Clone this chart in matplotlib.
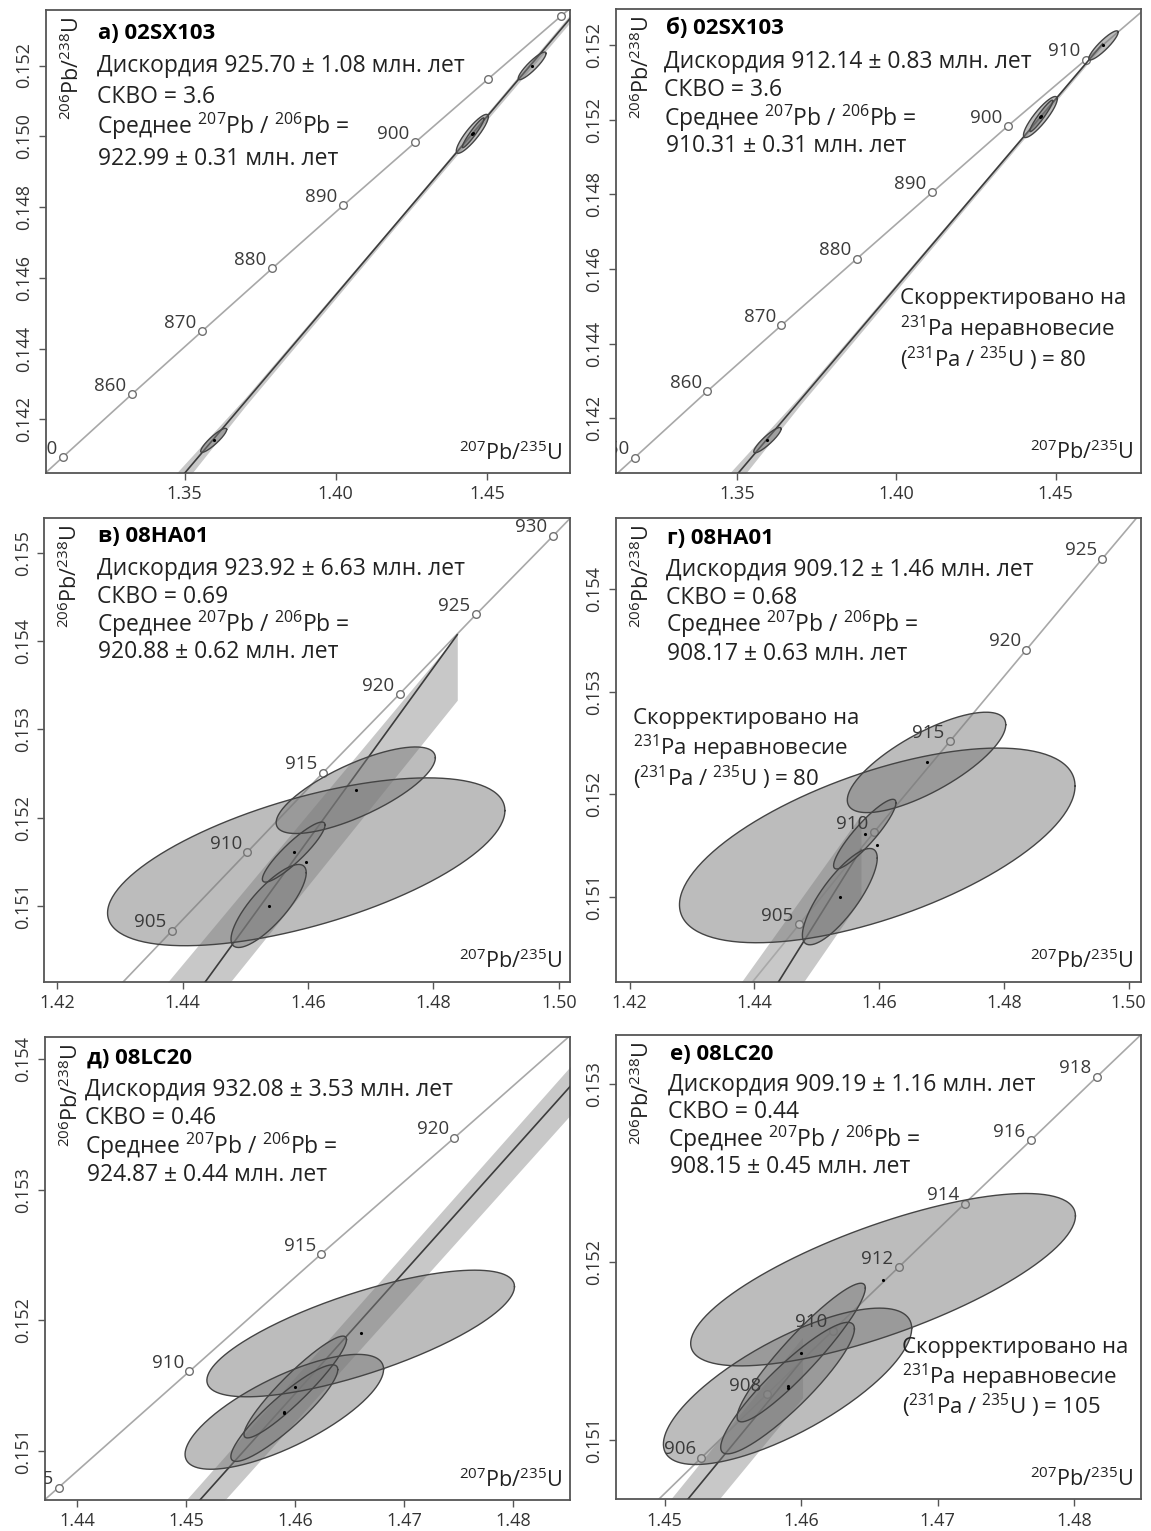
import numpy as np
import matplotlib
matplotlib.use('Agg')
import matplotlib.pyplot as plt

plt.rcParams['font.family'] = ['Open Sans', 'DejaVu Sans']
plt.rcParams['mathtext.fontset'] = 'custom'
plt.rcParams['mathtext.rm'] = 'Open Sans'
plt.rcParams['mathtext.it'] = 'Open Sans:italic'
plt.rcParams['mathtext.bf'] = 'Open Sans:bold'
plt.rcParams['mathtext.default'] = 'regular'

# ---------------- данные ----------------
# конкордия (возраст, 207Pb/235U, 206Pb/238U)
conc_a_age = [840, 850, 860, 870, 880, 890, 900, 910, 920, 930]
conc_a_x = [1.2871, 1.3097, 1.3326, 1.3557, 1.3790, 1.4025, 1.4263, 1.4503, 1.4746, 1.4991]
conc_a_y = [0.13917, 0.14094, 0.14272, 0.14449, 0.14627, 0.14805, 0.14983, 0.15161, 0.15340, 0.15519]
conc_a_lab = [850, 860, 870, 880, 890, 900]

conc_b_age = [840, 850, 860, 870, 880, 890, 900, 910, 920]
conc_b_x = [1.2951, 1.3179, 1.3407, 1.3640, 1.3876, 1.4113, 1.4350, 1.4595, 1.4839]
conc_b_y = [0.13917, 0.14094, 0.14272, 0.14449, 0.14627, 0.14805, 0.14983, 0.15161, 0.15340]
conc_b_lab = [850, 860, 870, 880, 890, 900, 910]

conc_c_age = [900, 905, 910, 915, 920, 925, 930, 935]
conc_c_x = [1.4263, 1.4383, 1.4503, 1.4624, 1.4746, 1.4868, 1.4991, 1.5114]
conc_c_y = [0.14983, 0.15072, 0.15161, 0.15251, 0.15340, 0.15430, 0.15519, 0.15609]
conc_c_lab = [905, 910, 915, 920, 925, 930]

conc_d_age = [900, 905, 910, 915, 920, 925, 930]
conc_d_x = [1.4352, 1.4472, 1.4592, 1.4714, 1.4836, 1.4958, 1.5081]
conc_d_y = [0.14983, 0.15073, 0.15163, 0.15252, 0.15341, 0.15430, 0.15519]
conc_d_lab = [905, 910, 915, 920, 925]

conc_e_age = [900, 905, 910, 915, 920, 925]
conc_e_x = [1.4263, 1.4383, 1.4503, 1.4624, 1.4746, 1.4868]
conc_e_y = [0.14983, 0.15072, 0.15161, 0.15251, 0.15340, 0.15430]
conc_e_lab = [905, 910, 915, 920]

conc_f_age = [904, 906, 908, 910, 912, 914, 916, 918, 920]
conc_f_x = [1.44791, 1.45268, 1.45749, 1.46231, 1.46714, 1.47198, 1.47684, 1.48169, 1.48656]
conc_f_y = [0.150541, 0.150898, 0.151256, 0.151613, 0.151970, 0.152328, 0.152685, 0.153043, 0.153400]
conc_f_lab = [906, 908, 910, 912, 914, 916, 918]

# эллипсы ошибок: x, sx, y, sy, rho
ell_02sx_x = [1.3596, 1.4452, 1.4455, 1.4650]
ell_02sx_sx = [0.0043, 0.0053, 0.0036, 0.0046]
ell_02sx_y = [0.14141, 0.15007, 0.15010, 0.15199]
ell_02sx_sy = [0.00034, 0.00055, 0.00042, 0.00039]
ell_02sx_rho = [0.90, 0.88, 0.95, 0.90]

ell_08ha_x = [1.4597, 1.4676, 1.4577, 1.4537]
ell_08ha_sx = [0.0317, 0.0127, 0.0050, 0.0060]
ell_08ha_y = [0.15150, 0.15231, 0.15161, 0.15100]
ell_08ha_sy = [0.00095, 0.00049, 0.00034, 0.00047]
ell_08ha_rho = [0.61, 0.75, 0.90, 0.80]

ell_08lc_x = [1.4660, 1.4590, 1.4600, 1.4590]
ell_08lc_sx = [0.0141, 0.0091, 0.0047, 0.0049]
ell_08lc_y = [0.15190, 0.15130, 0.15149, 0.15129]
ell_08lc_sy = [0.000485, 0.00044, 0.00039, 0.00037]
ell_08lc_rho = [0.74, 0.74, 0.93, 0.90]

# дискордии (концы линии) и огибающие ошибок
dis_a_x = [1.3440, 1.4882]
dis_a_y = [0.13988, 0.15440]
band_a_x = [1.3440, 1.3700, 1.4200, 1.4882]
band_a_lo = [0.13958, 0.14237, 0.14746, 0.15428]
band_a_hi = [0.14018, 0.14261, 0.14760, 0.15452]

dis_b_x = [1.3440, 1.4647]
dis_b_y = [0.13988, 0.15203]
band_b_x = [1.3440, 1.3700, 1.4200, 1.4647]
band_b_lo = [0.13958, 0.14237, 0.14746, 0.15197]
band_b_hi = [0.14018, 0.14261, 0.14760, 0.15209]

dis_c_x = [1.4400, 1.4838]
dis_c_y = [0.14979, 0.15407]
band_c_x = [1.4376, 1.4838]
band_c_lo = [0.14926, 0.15333]
band_c_hi = [0.15014, 0.15407]

dis_d_x = [1.4400, 1.4571]
dis_d_y = [0.14979, 0.15146]
band_d_x = [1.4376, 1.4571]
band_d_lo = [0.14926, 0.15098]
band_d_hi = [0.15014, 0.15180]

dis_e_x = [1.4480, 1.4900]
dis_e_y = [0.15032, 0.15424]
band_e_x = [1.4480, 1.4900]
band_e_lo = [0.150108, 0.154018]
band_e_hi = [0.150436, 0.154396]

dis_f_x = [1.4480, 1.4601]
dis_f_y = [0.15032, 0.15145]
band_f_x = [1.4480, 1.4601]
band_f_lo = [0.150108, 0.151235]
band_f_hi = [0.150436, 0.151577]

# подписи
titles = ['а) 02SX103', 'б) 02SX103', 'в) 08HA01', 'г) 08HA01', 'д) 08LC20', 'е) 08LC20']
discordia_txt = ['Дискордия 925.70 ± 1.08 млн. лет', 'Дискордия 912.14 ± 0.83 млн. лет',
                 'Дискордия 923.92 ± 6.63 млн. лет', 'Дискордия 909.12 ± 1.46 млн. лет',
                 'Дискордия 932.08 ± 3.53 млн. лет', 'Дискордия 909.19 ± 1.16 млн. лет']
mswd_txt = ['СКВО = 3.6', 'СКВО = 3.6', 'СКВО = 0.69', 'СКВО = 0.68', 'СКВО = 0.46', 'СКВО = 0.44']
mean_txt = ['922.99 ± 0.31 млн. лет', '910.31 ± 0.31 млн. лет', '920.88 ± 0.62 млн. лет',
            '908.17 ± 0.63 млн. лет', '924.87 ± 0.44 млн. лет', '908.15 ± 0.45 млн. лет']
pa_ratio = [None, '80', None, '80', None, '105']

# оси
xlims = [(1.3040, 1.4776), (1.31202, 1.47687), (1.41789, 1.50182),
         (1.41779, 1.50203), (1.43706, 1.48521), (1.44641, 1.48493)]
ylims = [(0.14049, 0.15357), (0.14054, 0.15296), (0.150143, 0.155389),
         (0.150170, 0.154693), (0.150625, 0.154174), (0.150666, 0.153277)]
xticks = [[1.35, 1.40, 1.45], [1.35, 1.40, 1.45], [1.42, 1.44, 1.46, 1.48, 1.50],
          [1.42, 1.44, 1.46, 1.48, 1.50], [1.44, 1.45, 1.46, 1.47, 1.48], [1.45, 1.46, 1.47, 1.48]]
yticks = [[0.142, 0.144, 0.146, 0.148, 0.150, 0.152], [0.142, 0.144, 0.146, 0.148, 0.150, 0.152],
          [0.151, 0.152, 0.153, 0.154, 0.155], [0.151, 0.152, 0.153, 0.154],
          [0.151, 0.152, 0.153, 0.154], [0.151, 0.152, 0.153]]
ytick_labels = [['0.142', '0.144', '0.146', '0.148', '0.150', '0.152'],
                ['0.142', '0.144', '0.146', '0.148', '0.152', '0.152'],
                ['0.151', '0.152', '0.153', '0.154', '0.155'],
                ['0.151', '0.152', '0.153', '0.154'],
                ['0.151', '0.152', '0.153', '0.154'],
                ['0.151', '0.152', '0.153']]

conc = [(conc_a_age, conc_a_x, conc_a_y, conc_a_lab), (conc_b_age, conc_b_x, conc_b_y, conc_b_lab),
        (conc_c_age, conc_c_x, conc_c_y, conc_c_lab), (conc_d_age, conc_d_x, conc_d_y, conc_d_lab),
        (conc_e_age, conc_e_x, conc_e_y, conc_e_lab), (conc_f_age, conc_f_x, conc_f_y, conc_f_lab)]
ell_02sx = (ell_02sx_x, ell_02sx_sx, ell_02sx_y, ell_02sx_sy, ell_02sx_rho)
ell_08ha = (ell_08ha_x, ell_08ha_sx, ell_08ha_y, ell_08ha_sy, ell_08ha_rho)
ell_08lc = (ell_08lc_x, ell_08lc_sx, ell_08lc_y, ell_08lc_sy, ell_08lc_rho)
ells = [ell_02sx, ell_02sx, ell_08ha, ell_08ha, ell_08lc, ell_08lc]
dis = [(dis_a_x, dis_a_y), (dis_b_x, dis_b_y), (dis_c_x, dis_c_y),
       (dis_d_x, dis_d_y), (dis_e_x, dis_e_y), (dis_f_x, dis_f_y)]
bands = [(band_a_x, band_a_lo, band_a_hi), (band_b_x, band_b_lo, band_b_hi),
         (band_c_x, band_c_lo, band_c_hi), (band_d_x, band_d_lo, band_d_hi),
         (band_e_x, band_e_lo, band_e_hi), (band_f_x, band_f_lo, band_f_hi)]

# положение панелей (доли фигуры) и текстов (доли осей)
positions = [[0.0397, 0.6911, 0.4557, 0.3024], [0.5350, 0.6913, 0.4566, 0.3027],
             [0.0384, 0.3588, 0.4570, 0.3027], [0.5350, 0.3588, 0.4566, 0.3027],
             [0.0391, 0.0203, 0.4563, 0.3026], [0.5350, 0.0209, 0.4566, 0.3031]]
text_x = [0.097, 0.092, 0.100, 0.095, 0.077, 0.100]
text_y = [[0.950, 0.878, 0.812, 0.748, 0.678], [0.959, 0.887, 0.826, 0.765, 0.704],
          [0.960, 0.890, 0.831, 0.772, 0.712], [0.957, 0.888, 0.827, 0.770, 0.707],
          [0.953, 0.885, 0.824, 0.763, 0.701], [0.957, 0.892, 0.835, 0.774, 0.716]]
note_pos = [None, (0.541, [0.375, 0.310, 0.245]), None, (0.032, [0.567, 0.504, 0.440]),
            None, (0.545, [0.327, 0.264, 0.201])]

TXT = '#222222'
FS = 16.5


def draw_ellipses(ax, e):
    t = np.linspace(0, 2 * np.pi, 240)
    for cx, sx, cy, sy, r in zip(*e):
        x = cx + sx * np.cos(t)
        y = cy + sy * (r * np.cos(t) + np.sqrt(1 - r ** 2) * np.sin(t))
        ax.fill(x, y, facecolor='#7a7a7a', alpha=0.5, edgecolor='none', zorder=4)
        ax.plot(x, y, color='#444444', lw=1.0, zorder=5)
        ax.plot(cx, cy, marker='.', color='black', ms=2.5, zorder=6)


fig = plt.figure(figsize=(11.51, 15.31), dpi=100)

for i in range(6):
    ax = fig.add_axes(positions[i])
    ax.set_xlim(*xlims[i])
    ax.set_ylim(*ylims[i])

    # огибающая и дискордия
    bx, blo, bhi = bands[i]
    ax.fill_between(bx, blo, bhi, color='#c8c8c8', lw=0, zorder=1)
    ax.plot(dis[i][0], dis[i][1], color='#3c3c3c', lw=1.2, zorder=3)

    # конкордия
    ages, cx, cy, labs = conc[i]
    ax.plot(cx, cy, color='#a8a8a8', lw=1.2, zorder=2)
    ax.plot(cx, cy, 'o', ms=5.5, mfc='white', mec='#707070', mew=1.0, zorder=2.5)
    for a, x, y in zip(ages, cx, cy):
        if a in labs:
            ax.annotate(str(a), (x, y), xytext=(-4, 6), textcoords='offset points',
                        ha='right', va='center', fontsize=13.5, color='#3a3a3a',
                        clip_on=True, zorder=7)

    draw_ellipses(ax, ells[i])

    # тексты
    tx = text_x[i]
    ty = text_y[i]
    ax.text(tx + 0.003, ty[0], titles[i], transform=ax.transAxes, fontsize=16,
            fontweight='bold', va='center', color='black', zorder=8)
    ax.text(tx, ty[1], discordia_txt[i], transform=ax.transAxes, fontsize=FS,
            va='center', color=TXT, zorder=8)
    ax.text(tx, ty[2], mswd_txt[i], transform=ax.transAxes, fontsize=FS,
            va='center', color=TXT, zorder=8)
    ax.text(tx, ty[3], r'Среднее $^{207}$Pb / $^{206}$Pb =', transform=ax.transAxes,
            fontsize=FS, va='center', color=TXT, zorder=8)
    ax.text(tx + 0.003, ty[4], mean_txt[i], transform=ax.transAxes, fontsize=FS,
            va='center', color=TXT, zorder=8)

    if pa_ratio[i] is not None:
        nx, ny = note_pos[i]
        ax.text(nx, ny[0], 'Скорректировано на', transform=ax.transAxes,
                fontsize=16, va='center', color=TXT, zorder=8)
        ax.text(nx, ny[1], r'$^{231}$Pa неравновесие', transform=ax.transAxes,
                fontsize=16, va='center', color=TXT, zorder=8)
        ax.text(nx, ny[2], r'($^{231}$Pa / $^{235}$U ) = ' + pa_ratio[i],
                transform=ax.transAxes, fontsize=16, va='center', color=TXT, zorder=8)

    # подписи осей внутри рамки
    ax.text(0.05, 0.985, r'$^{206}$Pb/$^{238}$U', transform=ax.transAxes, rotation=90,
            ha='center', va='top', fontsize=15.5, color=TXT, zorder=8)
    ax.text(0.985, 0.018, r'$^{207}$Pb/$^{235}$U', transform=ax.transAxes,
            ha='right', va='bottom', fontsize=15.5, color=TXT, zorder=8)

    ax.set_xticks(xticks[i])
    ax.set_xticklabels(['%.2f' % v for v in xticks[i]])
    ax.set_yticks(yticks[i])
    ax.set_yticklabels(ytick_labels[i], rotation=90, va='center')
    ax.tick_params(direction='out', length=5, width=1, color='#555555',
                   labelsize=13, labelcolor='#333333', pad=4)
    for s in ax.spines.values():
        s.set_color('#555555')
        s.set_linewidth(1.3)

fig.savefig('out.png', dpi=100, facecolor='white')
